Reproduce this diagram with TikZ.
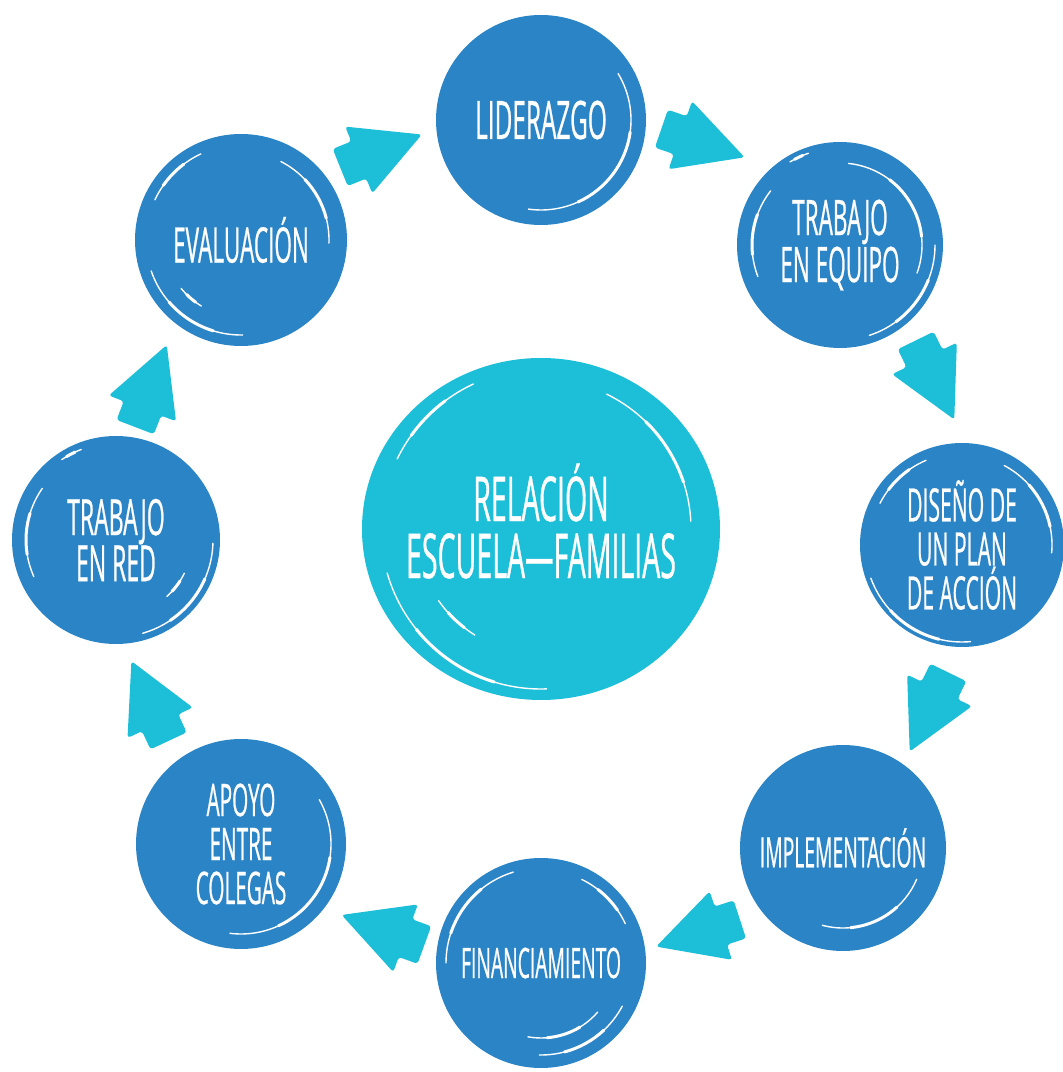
\documentclass[tikz,border=0pt]{standalone}
\usepackage{fontspec}
\newfontfamily\hand[FakeStretch=0.46,FakeBold=0.5]{Open Sans}
\usetikzlibrary{calc,shapes.geometric}
\definecolor{bubc}{HTML}{2A84C6}
\definecolor{arrowc}{HTML}{1DBED8}
\newcommand\fs[2]{\hand\fontsize{#1}{#2}\selectfont}
\newcommand\hl[4]{%
  \draw[white, line width=1.4pt, line cap=round] ($(#1)+(#3:#2)$) arc[start angle=#3, end angle=#4, radius=#2];
  \pgfmathsetmacro\hla{#3+0.3*(#4-#3)}%
  \pgfmathsetmacro\hlb{#3+0.75*(#4-#3)}%
  \draw[white, line width=3pt, line cap=round] ($(#1)+(\hla:#2)$) arc[start angle=\hla, end angle=\hlb, radius=#2];
}
\tikzset{
  bub/.style={circle, fill=bubc, inner sep=0pt, text=white, align=center},
  hub/.style={ellipse, fill=arrowc, inner sep=0pt},
  lbl/.style={text=white, align=center, inner sep=0pt},
  blockarrow/.pic={\fill[arrowc, rounded corners=3pt] (-44,-20) -- (-24,-20) -- (-24,-36) -- (44,0) -- (-24,36) -- (-24,20) -- (-44,20) -- cycle;}
}
\begin{document}
\begin{tikzpicture}[x=1pt,y=1pt]
\path[use as bounding box] (0,0) rectangle (1063,1072);
% central hub
\node[hub, minimum width=358pt, minimum height=342pt] (C) at (541,543) {};
\node[lbl, font={\fs{62}{57}}] (Ct) at ($(C)+(0,8)$) {RELACIÓN\\ESCUELA—FAMILIAS};
% outer circles
\node[bub, minimum size=210pt, font={\fs{53}{50}}] (L)  at (541,952) {LIDERAZGO};
\node[bub, minimum size=206pt, font={\fs{49}{47}}] (TE) at (840,827) {TRABAJO\\EN EQUIPO};
\node[bub, minimum size=204pt, font={\fs{46}{44}}] (DP) at (962,527) {DISEÑO DE\\UN PLAN\\DE ACCIÓN};
\node[bub, minimum size=206pt, font={\fs{42}{42}}] (IM) at (843,224) {IMPLEMENTACIÓN};
\node[bub, minimum size=210pt, font={\fs{42}{42}}] (FI) at (541,109) {FINANCIAMIENTO};
\node[bub, minimum size=210pt, font={\fs{45}{44}}] (AP) at (241,228) {APOYO\\ENTRE\\COLEGAS};
\node[bub, minimum size=208pt, font={\fs{50}{44}}] (TR) at (116,532) {TRABAJO\\EN RED};
\node[bub, minimum size=212pt, font={\fs{49}{45}}] (EV) at (241,832) {EVALUACIÓN};
% highlights
\hl{C}{160}{115}{154}
\hl{C}{150}{64}{3}
\hl{C}{160}{196}{272}
\hl{C}{125}{215}{238}
\hl{L}{90}{31}{-98}
\hl{EV}{95}{115}{155}
\hl{EV}{88}{63}{-2}
\hl{EV}{95}{199}{271}
\hl{EV}{77}{219}{239}
\hl{TE}{97}{109}{121}
\hl{TE}{82}{84}{-20}
\hl{TE}{95}{0}{-72}
\hl{TE}{88}{142}{201}
\hl{DP}{92}{113}{153}
\hl{DP}{90}{62}{-5}
\hl{DP}{97}{200}{275}
\hl{IM}{80}{-23}{-105}
\hl{FI}{95}{107}{180}
\hl{FI}{93}{64}{25}
\hl{FI}{75}{-41}{-100}
\hl{FI}{92}{-28}{-91}
\hl{AP}{90}{29.5}{-97}
\hl{TR}{97}{111}{124}
\hl{TR}{90}{145}{204}
\hl{TR}{97}{-2}{-74}
\hl{TR}{76}{-26}{-48}
% arrows
\path (381,921) pic[rotate=22]{blockarrow};
\path (703,929) pic[rotate=-19]{blockarrow};
\path (935,692) pic[rotate=-64]{blockarrow};
\path (929,360) pic[rotate=-116]{blockarrow};
\path (698,139) pic[rotate=198]{blockarrow};
\path (383,142) pic[rotate=160]{blockarrow};
\path (150,371) pic[rotate=115]{blockarrow};
\path (151,686) pic[rotate=69]{blockarrow};
\end{tikzpicture}
\end{document}
